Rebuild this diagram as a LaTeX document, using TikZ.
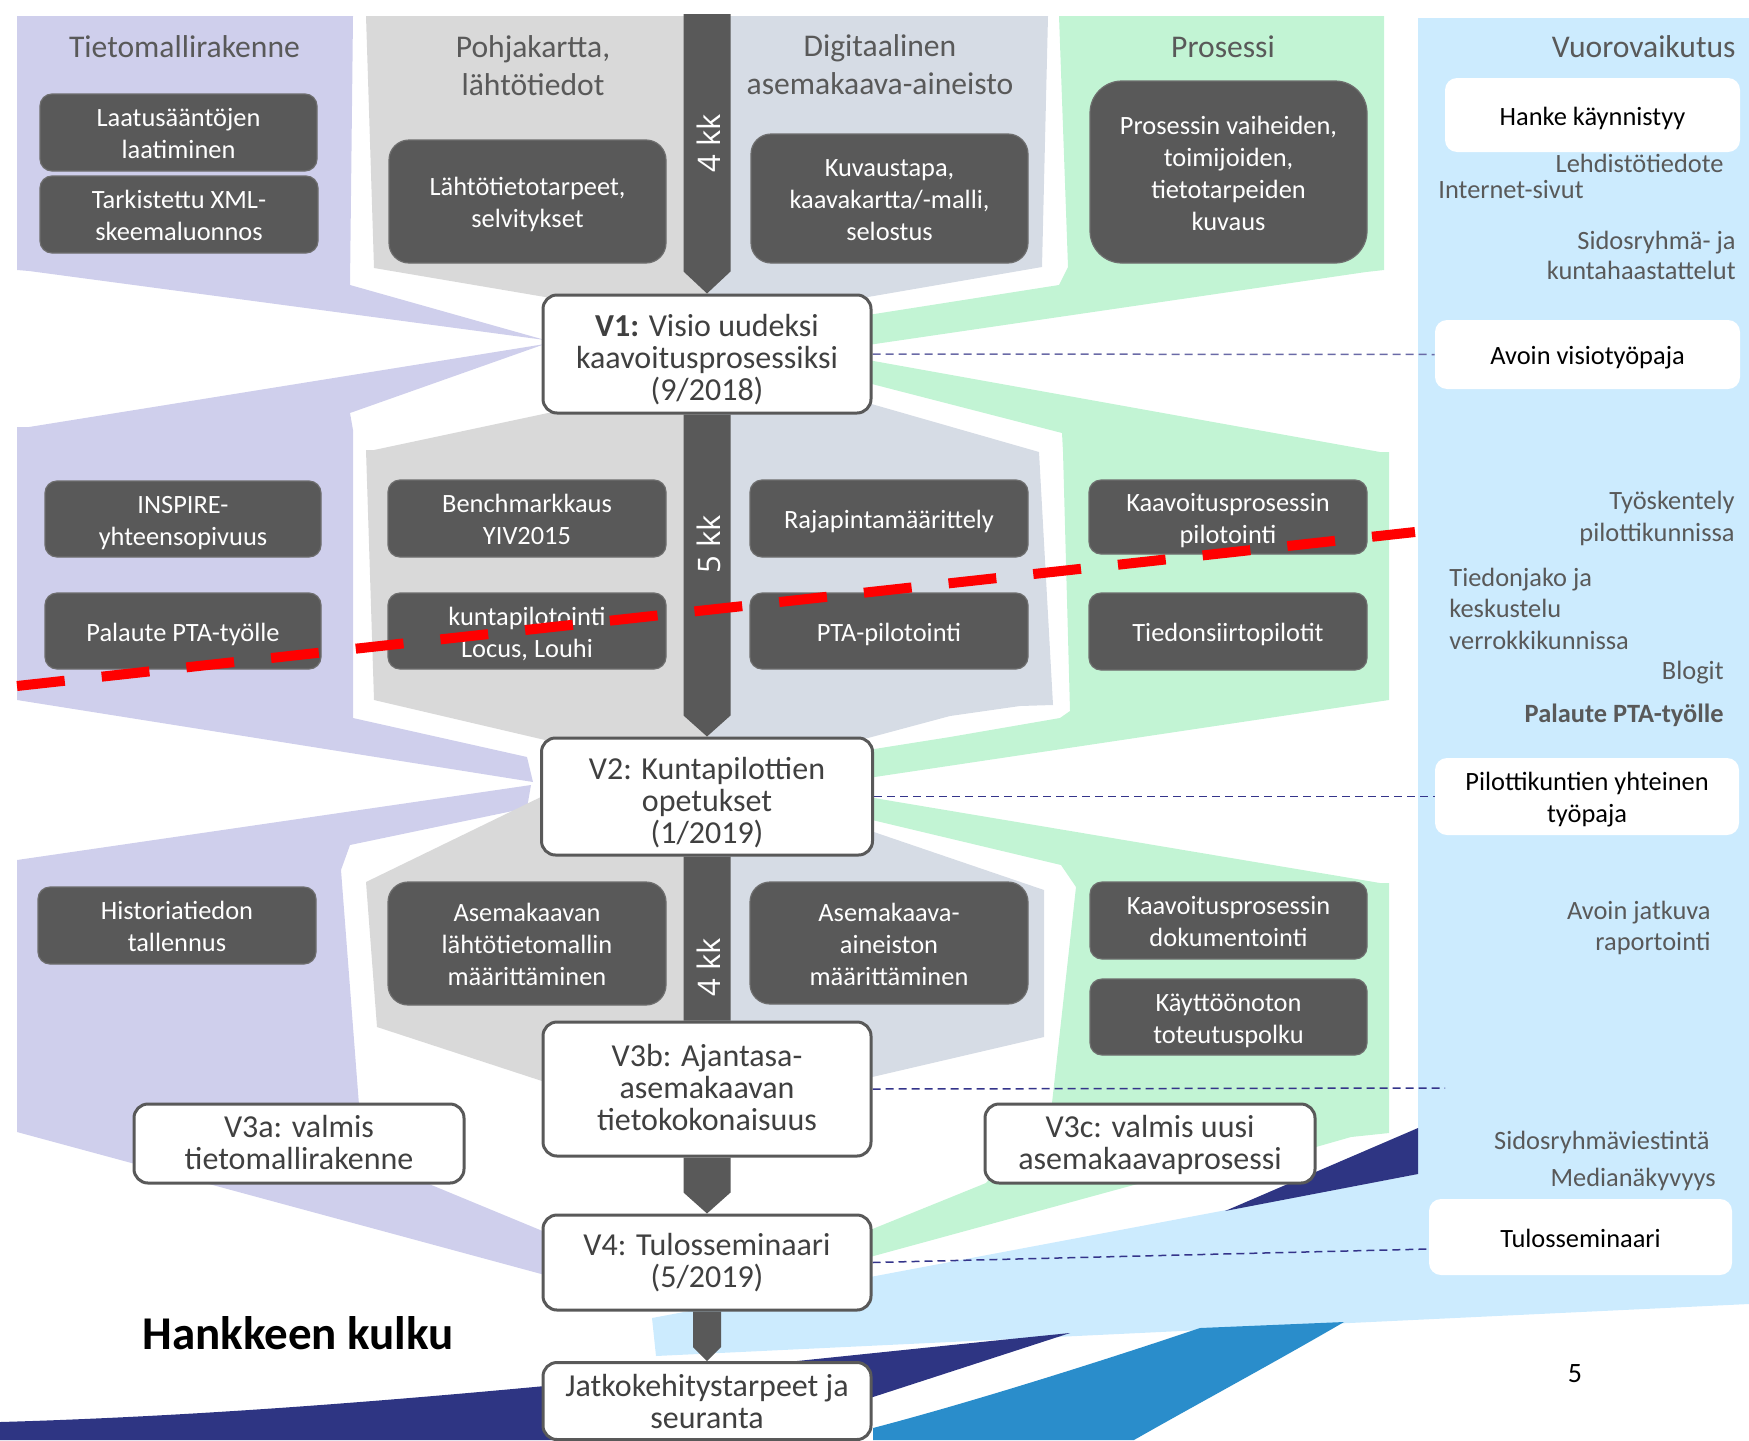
\documentclass[tikz,border=0pt]{standalone}
\usepackage{fontspec}
\setmainfont{Carlito}
\newfontfamily\kkfont{Open Sans}
\usetikzlibrary{calc}
\definecolor{lav}{HTML}{CFCFEC}
\definecolor{gry}{HTML}{D9D9D9}
\definecolor{bgry}{HTML}{D6DCE5}
\definecolor{grn}{HTML}{C2F4D4}
\definecolor{lblu}{HTML}{CCEBFE}
\definecolor{navy}{HTML}{2E3583}
\definecolor{mblu}{HTML}{2A8DCB}
\definecolor{dkg}{HTML}{595959}
\definecolor{dkedge}{HTML}{6E6E6E}
\definecolor{txg}{HTML}{404040}
\definecolor{dashA}{HTML}{6A6AA6}
\definecolor{dashB}{HTML}{34348A}
\pgfdeclarelayer{bg}
\pgfdeclarelayer{mid}
\pgfsetlayers{bg,mid,main}
\newcommand\SpineSeg[4]{\path[fill=dkg] let \p1=#1, \p2=#2 in
  (\x2-#3,\y1) -- (\x2+#3,\y1) -- (\x2+#3,\y2+#4) -- (\x2,\y2) -- (\x2-#3,\y2+#4) -- cycle;}
% struts that fix the vertical placement of box texts
\newcommand\dbT{\rule{0pt}{14.2pt}}
\newcommand\dbB{\rule[-4pt]{0pt}{0pt}}
\newcommand\wbT{\rule{0pt}{14.2pt}}
\newcommand\wbB{\rule[-4pt]{0pt}{0pt}}
\newcommand\msT[1]{\rule{0pt}{#1}}
\newcommand\msB[1]{\rule[-#1]{0pt}{0pt}}
\begin{document}
\begin{tikzpicture}[x=0.5pt,y=-0.5pt,
  darkbox/.style={fill=dkg, draw=dkedge, line width=0.6pt, rounded corners=6pt, text=white, align=center,
    font=\fontsize{13.2}{16}\selectfont, inner sep=0pt},
  milebox/.style={fill=white, draw=dkg, line width=1.5pt, rounded corners=7pt, align=center,
    text=txg, font=\fontsize{16}{16}\selectfont, inner sep=0pt},
  whitebox/.style={fill=white, rounded corners=6pt, align=center, text=black,
    font=\fontsize{13.2}{16}\selectfont, inner sep=0pt},
  header/.style={text=dkg, align=center, font=\fontsize{15.8}{19}\selectfont, inner sep=0pt},
  sidetxt/.style={text=dkg, font=\fontsize{13.2}{15.5}\selectfont, inner sep=0pt},
  kklabel/.style={text=white, rotate=90, font=\kkfont\fontsize{15.5}{16}\selectfont, inner sep=0pt},
  vdash/.style={dash pattern=on 4pt off 2.5pt, line width=0.75pt},
  reddash/.style={draw=red, line width=5pt, dash pattern=on 24pt off 18.6pt}
]
\useasboundingbox (0,0) rectangle (1749,1440);

% ---------- background regions ----------
\begin{pgfonlayer}{bg}
% lavender
\fill[lav] (17,16) -- (353,16) -- (350,285) -- (545,340) -- (29,271) -- (17,270) -- cycle;
\fill[lav] (17,427) -- (29,427) -- (545,344) -- (350,413) -- (353,430) -- (353,718) -- (527,757) -- (533,782) -- (17,700) -- cycle;
\fill[lav] (17,860) -- (531,785) -- (527,808) -- (350,845) -- (341,870) -- (359,1105) -- (429,1184) -- (545,1232) -- (545,1275) -- (17,1132) -- cycle;
% gray
\fill[gry] (366,16) -- (709,16) -- (709,297) -- (545,297) -- (374,268) -- cycle;
\fill[gry] (548,413) -- (374,450) -- (366,450) -- (374,700) -- (545,740) -- (709,740) -- (709,413) -- cycle;
\fill[gry] (545,795) -- (366,882) -- (377,1027) -- (545,1082) -- (709,1082) -- (709,795) -- cycle;
% blue-gray
\fill[bgry] (709,16) -- (1048,16) -- (1042,267) -- (868,297) -- (709,297) -- cycle;
\fill[bgry] (709,413) -- (868,403) -- (1039,452) -- (1053,705) -- (1020,706) -- (950,716) -- (868,738) -- (709,738) -- cycle;
\fill[bgry] (709,800) -- (868,830) -- (1044,890) -- (1044,1037) -- (868,1078) -- (709,1082) -- cycle;
% green
\fill[grn] (1059,16) -- (1384,16) -- (1384,270) -- (1366,272) -- (868,345) -- (868,315) -- (1059,285) -- (1068,267) -- cycle;
\fill[grn] (868,360) -- (1380,452) -- (1389,452) -- (1389,700) -- (868,778) -- (868,750) -- (950,737) -- (1060,718) -- (1070,711) -- (1063,452) -- (1062,433) -- (868,383) -- cycle;
\fill[grn] (868,797) -- (1380,883) -- (1389,883) -- (1389,1133) -- (1351,1137) -- (1316,1147) -- (1141,1183) -- (870,1257) -- (870,1230) -- (986,1183) -- (1052,1103) -- (1076,887) -- (1061,865) -- (868,819) -- cycle;
% light blue
\fill[lblu] (1418,18) -- (1749,18) -- (1749,1304) -- (656,1356) -- (652,1318) -- (1418,1174) -- cycle;
% navy wedge and swoosh
\fill[navy] (1418,1128) -- (1418,1174) -- (1225,1211) -- cycle;
\fill[navy] (0,1422) .. controls (350,1412) and (700,1370) .. (1070,1333) -- (873,1397) -- (741,1440) -- (0,1440) -- cycle;
% medium blue swoosh
\fill[mblu] (873,1428) .. controls (980,1400) and (1120,1355) .. (1200,1328) -- (1344,1322) .. controls (1270,1365) and (1190,1408) .. (1134,1440) -- (873,1440) -- cycle;
\end{pgfonlayer}

% ---------- headers ----------
\node[header] (h1) at (184.5,47) {Tietomallirakenne};
\node[header] (h2) at (533,66) {Pohjakartta,\\lähtötiedot};
\node[header] (h3) at (880,65) {Digitaalinen\\asemakaava-aineisto};
\node[header] (h4) at (1223,47) {Prosessi};
\node[header, anchor=east] (h5) at (1736,47) {Vuorovaikutus};

% ---------- dark boxes ----------
\node[darkbox, minimum width=138.5pt, minimum height=38.5pt] (d1) at (178.5,132.5) {\dbT Laatusääntöjen\\laatiminen\dbB};
\node[darkbox, minimum width=139pt, minimum height=38.5pt] (d2) at (179,214.5) {\dbT Tarkistettu XML-\\skeemaluonnos\dbB};
\node[darkbox, minimum width=138pt, minimum height=38pt] (d3) at (183,519) {\dbT INSPIRE-\\yhteensopivuus\dbB};
\node[darkbox, minimum width=138pt, minimum height=38pt] (d4) at (183,631) {\dbT Palaute PTA-työlle\dbB};
\node[darkbox, minimum width=139pt, minimum height=38.5pt] (d5) at (177,925.5) {\dbT Historiatiedon\\tallennus\dbB};
\node[darkbox, rounded corners=10pt, minimum width=138.5pt, minimum height=61.5pt] (d6) at (527.5,201.5) {\dbT Lähtötietotarpeet,\\selvitykset\dbB};
\node[darkbox, minimum width=139pt, minimum height=38.5pt] (d7) at (527,518.5) {\dbT Benchmarkkaus\\YIV2015\dbB};
\node[darkbox, minimum width=139pt, minimum height=38pt] (d8) at (527,631) {\dbT kuntapilotointi\\Locus, Louhi\dbB};
\node[darkbox, rounded corners=10pt, minimum width=139pt, minimum height=61.5pt] (d9) at (527,943.5) {\dbT Asemakaavan\\lähtötietomallin\\määrittäminen\dbB};
\node[darkbox, rounded corners=10pt, minimum width=138.5pt, minimum height=64.5pt] (d10) at (889.5,198.5) {\dbT Kuvaustapa,\\kaavakartta/-malli,\\selostus\dbB};
\node[darkbox, minimum width=139pt, minimum height=38.5pt] (d11) at (889,518.5) {\dbT Rajapintamäärittely\dbB};
\node[darkbox, minimum width=139pt, minimum height=38pt] (d12) at (889,631) {\dbT PTA-pilotointi\dbB};
\node[darkbox, rounded corners=10pt, minimum width=139pt, minimum height=61pt] (d13) at (889,943) {\dbT Asemakaava-\\aineiston\\määrittäminen\dbB};
\node[darkbox, rounded corners=16pt, minimum width=138.5pt, minimum height=91pt] (d14) at (1228.5,172) {\dbT Prosessin vaiheiden,\\toimijoiden,\\tietotarpeiden\\kuvaus\dbB};
\node[darkbox, minimum width=139pt, minimum height=37pt] (d15) at (1228,517) {\dbT Kaavoitusprosessin\\pilotointi\dbB};
\node[darkbox, minimum width=139pt, minimum height=38.5pt] (d16) at (1228,631.5) {\dbT Tiedonsiirtopilotit\dbB};
\node[darkbox, minimum width=138.5pt, minimum height=38.5pt] (d17) at (1228.5,920.5) {\dbT Kaavoitusprosessin\\dokumentointi\dbB};
\node[darkbox, minimum width=138.5pt, minimum height=38pt] (d18) at (1228.5,1017) {\dbT Käyttöönoton\\toteutuspolku\dbB};

% ---------- milestone boxes ----------
\node[milebox, minimum width=164pt, minimum height=59pt] (v1) at (707,354) {\msT{19.5pt}\textbf{V1:} Visio uudeksi\\kaavoitusprosessiksi\\(9/2018)\msB{5pt}};
\node[milebox, minimum width=165.5pt, minimum height=58.5pt] (v2) at (707,796.5) {\msT{19.8pt}V2: Kuntapilottien\\opetukset\\(1/2019)\msB{5pt}};
\node[milebox, minimum width=164pt, minimum height=67pt] (v3b) at (707,1089) {\msT{15.3pt}V3b: Ajantasa-\\asemakaavan\\tietokokonaisuus\msB{6.3pt}};
\node[milebox, minimum width=164pt, minimum height=47.5pt] (v4) at (707,1262.5) {\msT{15.3pt}V4: Tulosseminaari\\(5/2019)\msB{6.2pt}};
\node[milebox, minimum width=164pt, minimum height=38.5pt] (jatko) at (707,1401) {\msT{15.3pt}Jatkokehitystarpeet ja\\seuranta\msB{4.2pt}};
\node[milebox, minimum width=165pt, minimum height=39.5pt] (v3a) at (299,1143.5) {\msT{15.3pt}V3a: valmis\\tietomallirakenne\msB{5.4pt}};
\node[milebox, minimum width=165pt, minimum height=39.5pt] (v3c) at (1150,1143.5) {\msT{15.3pt}V3c: valmis uusi\\asemakaavaprosessi\msB{5.4pt}};

% ---------- right white boxes ----------
\node[whitebox, minimum width=147.5pt, minimum height=37pt] (w1) at (1592.5,115) {\wbT Hanke käynnistyy\wbB};
\node[whitebox, minimum width=152.5pt, minimum height=34.5pt] (w2) at (1587.5,354.5) {\wbT Avoin visiotyöpaja\wbB};
\node[whitebox, minimum width=152pt, minimum height=38.5pt] (w3) at (1587,796.5) {\wbT Pilottikuntien yhteinen\\työpaja\wbB};
\node[whitebox, minimum width=151.5pt, minimum height=38pt] (w4) at (1580.5,1237) {\wbT Tulosseminaari\wbB};

% ---------- right column texts ----------
\node[sidetxt, anchor=east] (r1) at (1724,163) {Lehdistötiedote};
\node[sidetxt, anchor=west] (r2) at (1438,190) {Internet-sivut};
\node[sidetxt, anchor=east, align=right, font=\fontsize{13.2}{15}\selectfont] (r3) at (1736,255) {Sidosryhmä- ja\\kuntahaastattelut};
\node[sidetxt, anchor=east, align=right, font=\fontsize{13.2}{16}\selectfont] (r4) at (1735,518) {Työskentely\\pilottikunnissa};
\node[sidetxt, anchor=west, align=left, font=\fontsize{13.2}{15.75}\selectfont] (r5) at (1449,608.5) {Tiedonjako ja\\keskustelu\\verrokkikunnissa};
\node[sidetxt, anchor=east] (r6) at (1724,673) {Blogit};
\node[sidetxt, anchor=east, font=\bfseries\fontsize{13.2}{15.5}\selectfont] (r7) at (1724,715) {Palaute PTA-työlle};
\node[sidetxt, anchor=east, align=right, font=\fontsize{13.2}{15.5}\selectfont] (r8) at (1711,928) {Avoin jatkuva\\raportointi};
\node[sidetxt, anchor=east] (r9) at (1710,1142) {Sidosryhmäviestintä};
\node[sidetxt, anchor=east] (r10) at (1716,1179) {Medianäkyvyys};

% ---------- title and page number ----------
\node[anchor=base, inner sep=0pt, font=\bfseries\fontsize{23.5}{24}\selectfont] (title) at (298,1349) {Hankkeen kulku};
\node[inner sep=0pt, font=\fontsize{14}{14}\selectfont] (pnum) at (1575,1374) {5};

% ---------- spine arrows ----------
\coordinate (spinetop) at (707,14);
\begin{pgfonlayer}{mid}
\SpineSeg{(spinetop)}{(v1.north)}{11.75pt}{11pt}
\SpineSeg{(v1.south)}{(v2.north)}{11.75pt}{10.5pt}
\SpineSeg{(v2.south)}{(v3b.north)}{11.75pt}{0pt}
\SpineSeg{(v3b.south)}{(v4.north)}{11.75pt}{10.5pt}
\SpineSeg{(v4.south)}{(jatko.north)}{7pt}{7pt}
% dashed links
\coordinate (v3bend) at (1445,1088);
\coordinate (w4in) at ($(w4.west)+(0,12)$);
\draw[vdash, draw=dashA] (v1.east) -- (w2.west);
\draw[vdash, draw=dashB] (v2.east) -- (w3.west);
\draw[vdash, draw=dashB] (v3b.east) -- (v3bend);
\draw[vdash, draw=dashB] (v4.east) -- (w4in);
\end{pgfonlayer}

\node[kklabel] (kk1) at (709,143) {4 kk};
\node[kklabel] (kk2) at (709,544) {5 kk};
\node[kklabel] (kk3) at (709,967) {4 kk};

% ---------- red dashed line ----------
\coordinate (redA) at (17,686);
\coordinate (redB) at (1415,532);
\draw[reddash] (redA) -- (redB);
\end{tikzpicture}
\end{document}
